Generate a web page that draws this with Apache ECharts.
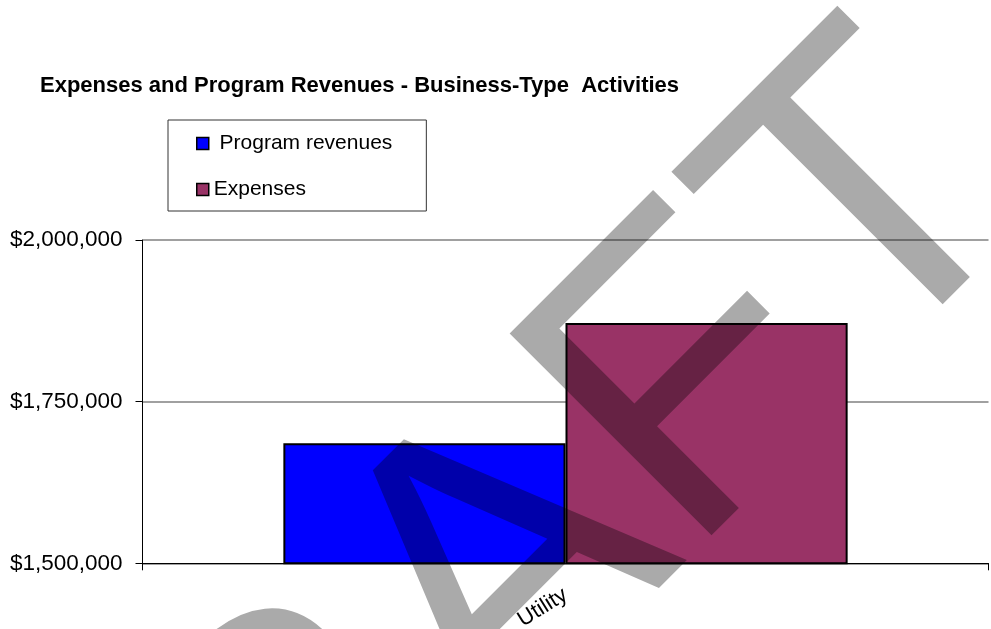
<!DOCTYPE html>
<html>
<head>
<meta charset="utf-8">
<title>Expenses and Program Revenues</title>
<script src="https://cdn.jsdelivr.net/npm/echarts@6/dist/echarts.min.js"></script>
<style>
  html, body { margin: 0; padding: 0; background: #fff; }
  #chart { width: 991px; height: 629px; background: #fff; }
</style>
</head>
<body>
<div id="chart"></div>
<script>
// data
let categories = ['Utility'];
let programRevenues = [1685500];
let expenses = [1871500];
let yTicks = [1500000, 1750000, 2000000];

let myChart = echarts.init(document.getElementById('chart'));
let font = '"Liberation Sans", Arial, sans-serif';

let option = {
    animation: false,
    backgroundColor: '#fff',
    title: {
        text: 'Expenses and Program Revenues - Business-Type  Activities',
        left: 40,
        top: 75,
        padding: 0,
        textStyle: {
            fontFamily: font,
            fontSize: 22,
            fontWeight: 'bold',
            color: '#000'
        }
    },
    legend: {
        orient: 'vertical',
        left: 168,
        top: 120,
        padding: [13, 34, 11, 28],
        itemGap: 25,
        itemWidth: 12,
        itemHeight: 12,
        icon: 'rect',
        borderColor: '#333',
        borderWidth: 1,
        formatter: function (name) {
            // the first entry has a leading blank in the original
            return name === 'Program revenues' ? ' ' + name : name;
        },
        itemStyle: {
            borderColor: '#000',
            borderWidth: 1.5
        },
        textStyle: {
            fontFamily: font,
            fontSize: 21,
            color: '#000'
        }
    },
    grid: {
        left: 142.5,
        right: 2.5,
        top: 240,
        bottom: 65.7,
        containLabel: false,
        outerBoundsMode: 'none'
    },
    xAxis: {
        type: 'category',
        data: categories,
        axisLine: { show: true, lineStyle: { color: '#000', width: 1 } },
        axisTick: { show: true, length: 7, lineStyle: { color: '#000' } },
        axisLabel: {
            rotate: 32,
            margin: 30,
            fontFamily: font,
            fontSize: 22,
            color: '#000'
        },
        splitLine: { show: false }
    },
    yAxis: {
        type: 'value',
        min: yTicks[0],
        max: yTicks[yTicks.length - 1],
        interval: yTicks[1] - yTicks[0],
        axisLine: { show: true, lineStyle: { color: '#000', width: 1 } },
        axisTick: { show: true, length: 7, lineStyle: { color: '#000' } },
        axisLabel: {
            margin: 20,
            fontFamily: font,
            fontSize: 22.5,
            color: '#000',
            formatter: function (v) {
                return '$' + v.toLocaleString('en-US');
            }
        },
        splitLine: { show: true, lineStyle: { color: '#808080', width: 1.5 } }
    },
    series: [
        {
            name: 'Program revenues',
            type: 'bar',
            data: programRevenues,
            barGap: '0%',
            barCategoryGap: '33.3%',
            itemStyle: {
                color: '#0000ff',
                borderColor: '#000',
                borderWidth: 2
            }
        },
        {
            name: 'Expenses',
            type: 'bar',
            data: expenses,
            barGap: '0%',
            barCategoryGap: '33.3%',
            itemStyle: {
                color: '#993366',
                borderColor: '#000',
                borderWidth: 2
            }
        }
    ],
    // the DRAFT watermark, on its own layer so it can multiply over the bars
    graphic: [
        {
            type: 'text',
            x: 476,
            y: 609,
            rotation: Math.PI / 4,
            zlevel: 1,
            z: 100,
            silent: true,
            style: {
                text: 'DRAFT',
                font: '415px "Liberation Sans"',
                fill: '#aaaaaa',
                align: 'center',
                verticalAlign: 'middle'
            }
        }
    ]
};
myChart.setOption(option);

let setBlend = () => {
    let canvases = document.querySelectorAll('#chart canvas');
    if (canvases.length > 1) {
        canvases[canvases.length - 1].style.mixBlendMode = 'multiply';
    }
};
myChart.on('finished', setBlend);
setBlend();
setTimeout(setBlend, 0);
</script>
</body>
</html>
